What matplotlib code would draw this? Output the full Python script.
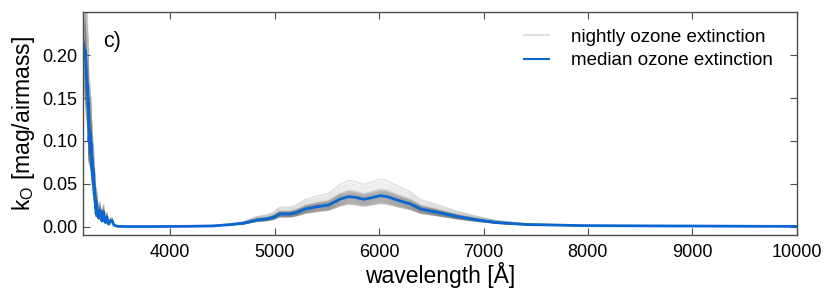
"""Ozone extinction: nightly curves and median (panel c)."""

import matplotlib
matplotlib.use("Agg")
import matplotlib.pyplot as plt
import numpy as np

plt.rcParams["font.family"] = ["Liberation Sans", "DejaVu Sans"]
plt.rcParams["mathtext.fontset"] = "custom"
plt.rcParams["mathtext.rm"] = "Liberation Sans"

# ── Data ──────────────────────────────────────────────────────────────────────
wavelength = [
    3165, 3172, 3180, 3188, 3195, 3200, 3204, 3208, 3214, 3218, 3222, 3228,
    3232, 3236, 3240, 3244, 3248, 3252, 3256, 3260, 3264, 3268, 3272, 3278,
    3284, 3288, 3291, 3296, 3300, 3308, 3316, 3324, 3332, 3340, 3348, 3356,
    3364, 3372, 3380, 3388, 3396, 3404, 3412, 3428, 3444, 3460, 3476, 3500,
    3600, 3800, 4000, 4200, 4400, 4575, 4703, 4831, 4927, 4990, 5048, 5151,
    5215, 5294, 5407, 5518, 5566, 5630, 5710, 5774, 5853, 5918, 6014, 6078,
    6174, 6301, 6397, 6557, 6749, 6941, 7132, 7324, 7452, 7612, 7931, 8300,
    8700, 9200, 9600, 10000,
]
median_ko = [
    0.215, 0.212, 0.200, 0.205, 0.178, 0.170, 0.160, 0.165, 0.140, 0.145, 0.100, 0.112,
    0.095, 0.108, 0.085, 0.098, 0.070, 0.080, 0.060, 0.068, 0.050, 0.062, 0.038, 0.045,
    0.022, 0.030, 0.015, 0.028, 0.026, 0.012, 0.011, 0.019, 0.019, 0.008, 0.007, 0.016,
    0.017, 0.006, 0.005, 0.011, 0.011, 0.004, 0.003, 0.007, 0.007, 0.002, 0.001, 0.0003,
    0.0001, 0.0001, 0.0002, 0.0004, 0.0008, 0.0023, 0.0039, 0.0078, 0.0090, 0.0109, 0.0148, 0.0148,
    0.0167, 0.0206, 0.0233, 0.0253, 0.0283, 0.0323, 0.0350, 0.0342, 0.0319, 0.0334, 0.0361, 0.0350,
    0.0310, 0.0264, 0.0206, 0.0167, 0.0117, 0.0078, 0.0047, 0.0031, 0.0023, 0.0020, 0.0012, 0.0010,
    0.0008, 0.0006, 0.0004, 0.0003,
]
# peak k_O at ~6000 A for each night
nightly_peak = [
    0.0265, 0.0270, 0.0274, 0.0278, 0.0281, 0.0284, 0.0287, 0.0290, 0.0293, 0.0296,
    0.0299, 0.0302, 0.0305, 0.0308, 0.0311, 0.0314, 0.0317, 0.0320, 0.0323, 0.0326,
    0.0329, 0.0332, 0.0335, 0.0338, 0.0341, 0.0344, 0.0347, 0.0350, 0.0353, 0.0356,
    0.0359, 0.0362, 0.0365, 0.0368, 0.0371, 0.0374, 0.0377, 0.0380, 0.0383, 0.0386,
    0.0389, 0.0392, 0.0395, 0.0398, 0.0401, 0.0404, 0.0407, 0.0410, 0.0413, 0.0417,
    0.0421, 0.0425, 0.0430, 0.0436, 0.0442, 0.0460, 0.0480, 0.0500, 0.0520, 0.0545,
    0.0560,
]
median_peak = 0.0361

# ── Plot ──────────────────────────────────────────────────────────────────────
fig = plt.figure(figsize=(8.30, 2.94), dpi=100)
ax = fig.add_axes([0.100, 0.200, 0.860, 0.758])

wl = np.array(wavelength)
med = np.array(median_ko)
for i, peak in enumerate(nightly_peak):
    ax.plot(wl, med * peak / median_peak, color="0.45", lw=0.6, alpha=0.22,
            label="nightly ozone extinction" if i == 0 else None)
ax.plot(wl, med, color="#0a66d0", lw=2.0, label="median ozone extinction")

ax.set_xlim(3165, 10000)
ax.set_ylim(-0.01, 0.25)
ax.set_xticks([4000, 5000, 6000, 7000, 8000, 9000, 10000])
ax.set_yticks([0.00, 0.05, 0.10, 0.15, 0.20])
ax.yaxis.set_major_formatter(matplotlib.ticker.FormatStrFormatter("%.2f"))
ax.tick_params(direction="in", top=True, right=True, length=5, width=0.8,
               color="0.3", labelsize=13)
ax.tick_params(axis="x", pad=6)
ax.tick_params(axis="y", pad=4)
for s in ax.spines.values():
    s.set_color("0.3")
    s.set_linewidth(1.0)

ax.set_xlabel("wavelength [Å]", fontsize=16.5, labelpad=1)
ax.set_ylabel(r"k$_{\mathregular{O}}$ [mag/airmass]", fontsize=16.5, labelpad=4)
ax.text(0.028, 0.867, "c)", transform=ax.transAxes, fontsize=15.5, va="center")

leg = ax.legend(loc="upper right", bbox_to_anchor=(0.977, 0.961), borderaxespad=0,
                frameon=False, fontsize=13.5, handlelength=1.33, handletextpad=1.2,
                labelspacing=0.35)
for h in leg.legend_handles:
    h.set_linewidth(1.5)

fig.savefig("out.png", dpi=100)
